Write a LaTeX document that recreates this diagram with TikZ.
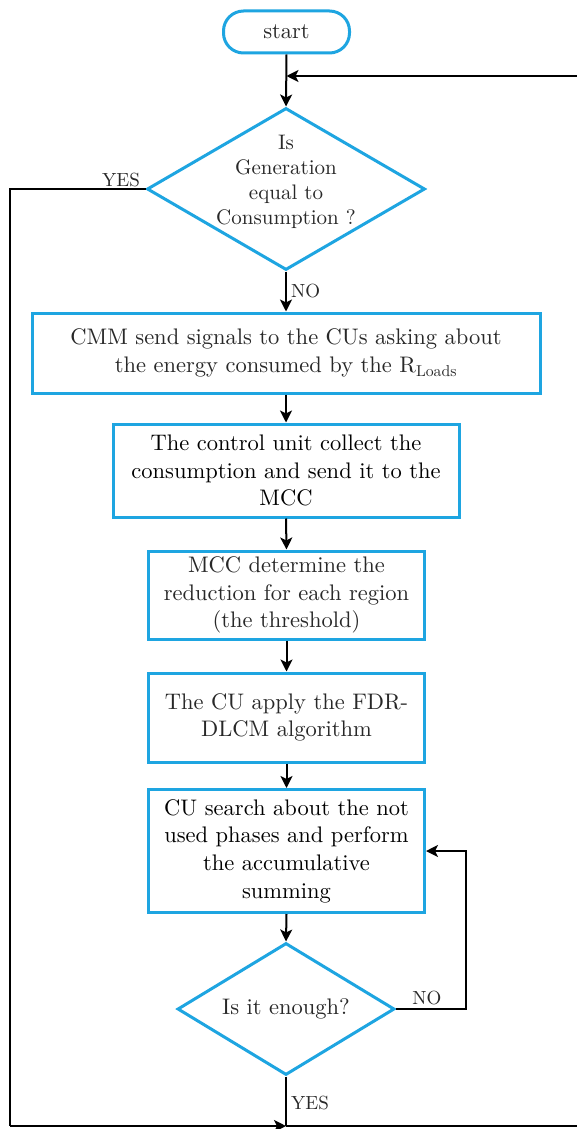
\documentclass[tikz,border=0pt]{standalone}
\usepackage{fontspec}
\setmainfont{lmroman10-regular}[Extension=.otf]
\usetikzlibrary{arrows.meta,shapes.geometric}
\definecolor{fcblue}{RGB}{30,165,225}
\definecolor{txtgray}{RGB}{40,40,40}
\begin{document}
\begin{tikzpicture}[x=1pt,y=-1pt,
  box/.style={draw=fcblue, line width=3pt, rectangle, inner sep=0pt, align=center,
    font=\fontsize{22.5}{27.7}\selectfont, text=txtgray},
  dia/.style={draw=fcblue, line width=3pt, diamond, inner sep=0pt},
  dtext/.style={align=center, inner sep=0pt, text=txtgray},
  arr/.style={draw=black, line width=2pt, -{Stealth[length=12pt,width=12pt,inset=3pt]}},
  ln/.style={draw=black, line width=2pt},
  lbl/.style={font=\fontsize{19}{22}\selectfont, text=txtgray, inner sep=0pt}]
\useasboundingbox (0,0) rectangle (577,1129);
\fill[white] (0,0) rectangle (577,1129);

% nodes
\node[box, rounded corners=20pt, minimum width=126pt, minimum height=42pt] (start) at (286.5,32) {start};
\node[dia, minimum width=278pt, minimum height=162pt] (d1) at (286,189) {};
\node[dtext, font=\fontsize{21}{25}\selectfont] (d1t) at (286,182) {Is\\Generation\\equal to\\Consumption ?};
\node[box, minimum width=508pt, minimum height=80pt] (b1) at (286,353)
  {CMM send signals to the CUs asking about\\the energy consumed by the R\textsubscript{Loads}};
\node[box, text=black, minimum width=346pt, minimum height=93pt] (b2) at (286,470.5)
  {The control unit collect the\\consumption and send it to the\\MCC};
\node[box, minimum width=276pt, minimum height=88pt] (b3) at (286.5,595)
  {MCC determine the\\reduction for each region\\(the threshold)};
\node[box, minimum width=276pt, minimum height=89pt] (b4) at (286.5,717.5)
  {The CU apply the FDR-\\DLCM algorithm};
\node[box, text=black, minimum width=276pt, minimum height=123pt] (b5) at (286.5,851)
  {CU search about the not\\used phases and perform\\the accumulative\\summing};
\node[dia, minimum width=217pt, minimum height=132pt] (d2) at (286,1009) {};
\node[dtext, font=\fontsize{22.5}{27}\selectfont] (d2t) at (286,1009) {Is it enough?};

% labels
\node[lbl] (yes1) at (121,180) {YES};
\node[lbl, anchor=west] (no1) at (291,291) {NO};
\node[lbl] (no2) at (427,998) {NO};
\node[lbl, anchor=west] (yes2) at (291,1103) {YES};

% coordinates
\coordinate (tr) at (577,76);
\coordinate (tm) at (start.south |- tr);
\coordinate (lt) at (10,189);
\coordinate (bl) at (10,1126);
\coordinate (br) at (577,1126);
\coordinate (bm) at (d2.south |- bl);
\coordinate (nc) at (466,1009);

% connectors
\draw[arr] (start.south) -- (d1.north);
\draw[arr] (tr) -- (tm);
\draw[arr] (d1.south) -- (b1.north);
\draw[arr] (b1.south) -- (b2.north);
\draw[arr] (b2.south) -- (b3.north);
\draw[arr] (b3.south) -- (b4.north);
\draw[arr] (b4.south) -- (b5.north);
\draw[arr] (b5.south) -- (d2.north);
\draw[arr] (d2.east) -- (nc) |- (b5.east);
\draw[ln] (d1.west) -- (lt) -- (bl);
\draw[arr] (bl) -- (bm);
\draw[ln] (bm) -- (br);
\draw[ln] (d2.south) -- (bm);
\end{tikzpicture}
\end{document}
